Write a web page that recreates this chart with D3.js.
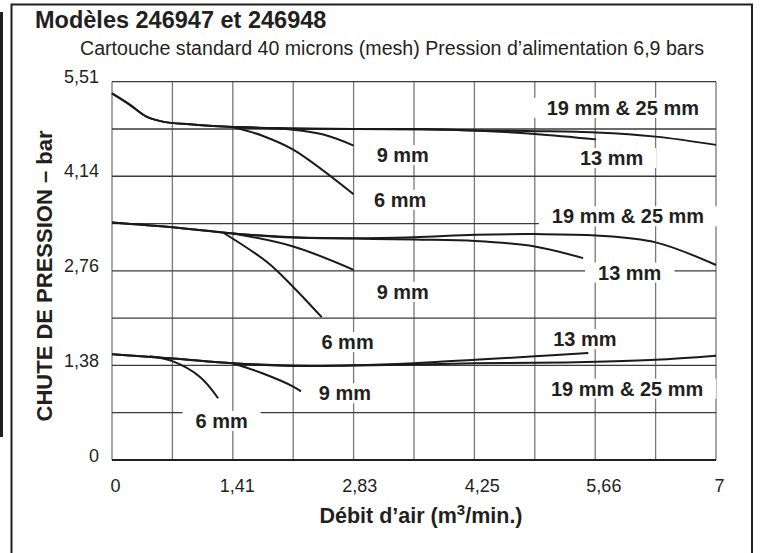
<!DOCTYPE html>
<html>
<head>
<meta charset="utf-8">
<script src="https://cdn.jsdelivr.net/npm/d3@7"></script>
<style>
  html, body { margin: 0; padding: 0; background: #fff; }
  svg text { font-family: "Liberation Sans", Arial, Helvetica, sans-serif; fill: #231f20; }
</style>
</head>
<body>
<svg id="chart" width="760" height="553"></svg>
<script>
// ---------- data ----------
const xTicks = [0, 1.41, 2.83, 4.25, 5.66, 7];
const xTickLabels = ["0", "1,41", "2,83", "4,25", "5,66", "7"];
const yTicks = [0, 1.38, 2.76, 4.14, 5.51];
const yTickLabels = ["0", "1,38", "2,76", "4,14", "5,51"];
const xGrid = [0, 0.7, 1.4, 2.1, 2.8, 3.5, 4.2, 4.9, 5.6, 6.3, 7];
const yGrid = [0, 0.689, 1.378, 2.066, 2.755, 3.444, 4.133, 4.821, 5.51];

// upper group
const top_19_25 = [[0,5.34],[0.2,5.18],[0.4,5.0],[0.6,4.925],[0.9,4.89],[1.4,4.85],[2.1,4.83],[2.8,4.82],[3.57,4.82],[4.21,4.80],[4.9,4.79],[5.61,4.77],[6.3,4.71],[7.0,4.59]];
const top_13 = [[0,5.34],[0.2,5.18],[0.4,5.0],[0.6,4.925],[0.9,4.89],[1.4,4.85],[2.1,4.83],[2.8,4.82],[3.9,4.81],[4.9,4.75],[5.61,4.67]];
const top_9 = [[1.4,4.85],[2.1,4.81],[2.45,4.74],[2.8,4.58]];
const top_6 = [[1.4,4.85],[1.75,4.72],[2.1,4.52],[2.8,3.87]];

// middle group
const mid_19_25 = [[0,3.46],[0.7,3.39],[1.4,3.30],[2.1,3.245],[2.8,3.23],[3.5,3.245],[4.21,3.28],[4.9,3.29],[5.61,3.27],[6.3,3.17],[7.0,2.84]];
const mid_13 = [[0,3.46],[0.7,3.39],[1.4,3.30],[2.1,3.24],[2.8,3.225],[3.5,3.21],[4.21,3.19],[4.9,3.11],[5.46,2.94]];
const mid_9 = [[1.4,3.30],[2.1,3.11],[2.8,2.77]];
const mid_6 = [[1.29,3.31],[1.8,2.88],[2.1,2.52],[2.43,2.08]];

// lower group
const low_19_25 = [[0,1.54],[0.7,1.48],[1.4,1.41],[2.1,1.37],[2.8,1.375],[3.5,1.39],[4.21,1.41],[4.9,1.415],[5.61,1.43],[6.3,1.46],[7.0,1.52]];
const low_13 = [[0,1.54],[0.7,1.48],[1.4,1.41],[2.1,1.375],[2.8,1.38],[3.5,1.41],[4.21,1.46],[4.9,1.51],[5.52,1.56]];
const low_9 = [[1.4,1.41],[1.75,1.26],[2.1,1.07],[2.19,1.00]];
const low_6 = [[0.44,1.51],[0.7,1.44],[1.02,1.21],[1.23,0.90]];

const curveSeries = [top_19_25, top_13, top_9, top_6, mid_19_25, mid_13, mid_9, mid_6, low_19_25, low_13, low_9, low_6];

// curve labels: text and centre (data units)
const labelTexts = ["19 mm & 25 mm", "9 mm", "13 mm", "6 mm",
                    "19 mm & 25 mm", "13 mm", "9 mm", "6 mm",
                    "13 mm", "19 mm & 25 mm", "9 mm", "6 mm"];
const labelX = [5.92, 3.37, 5.79, 3.34, 5.98, 6.00, 3.37, 2.73, 5.48, 5.97, 2.70, 1.27];
const labelY = [5.13, 4.44, 4.40, 3.79, 3.55, 2.73, 2.45, 1.72, 1.76, 1.04, 0.97, 0.57];

const titleText = "Modèles 246947 et 246948";
const subtitleText = "Cartouche standard 40 microns (mesh) Pression d’alimentation 6,9 bars";
const yTitle = "CHUTE DE PRESSION – bar";

// ---------- drawing ----------
const svg = d3.select("#chart");
const x = d3.scaleLinear().domain([0, 7]).range([112, 716]);
const y = d3.scaleLinear().domain([0, 5.51]).range([460, 81.7]);

// frame
svg.append("rect").attr("x", 0).attr("y", 12).attr("width", 3).attr("height", 425).attr("fill", "#231f20");
svg.append("path").attr("d", "M11.5,553 V4.5 H752 V553").attr("fill", "none").attr("stroke", "#231f20").attr("stroke-width", 2);

// title
svg.append("text").attr("x", 35).attr("y", 28).attr("font-size", 23.5).attr("font-weight", "bold").text(titleText);
svg.append("text").attr("x", 80).attr("y", 55).attr("font-size", 19.6).text(subtitleText);

// grid
const g = svg.append("g");
g.selectAll("line.vg").data(xGrid).join("line").attr("class", "vg")
  .attr("x1", d => x(d)).attr("x2", d => x(d)).attr("y1", y(0)).attr("y2", y(5.51))
  .attr("stroke", "#777").attr("stroke-width", 1.3);
g.selectAll("line.hg").data(yGrid).join("line").attr("class", "hg")
  .attr("x1", x(0)).attr("x2", x(7)).attr("y1", d => y(d)).attr("y2", d => y(d))
  .attr("stroke", "#3a3a3a").attr("stroke-width", 1.3);
g.append("line").attr("x1", x(0)).attr("x2", x(7)).attr("y1", y(0)).attr("y2", y(0)).attr("stroke", "#231f20").attr("stroke-width", 2);

// axes (tick labels only)
const xAxis = d3.axisBottom(x).tickValues(xTicks).tickFormat((d, i) => xTickLabels[i]).tickSize(0).tickPadding(0);
const xa = svg.append("g").attr("transform", `translate(3,${y(0)})`).call(xAxis);
xa.select(".domain").remove();
xa.selectAll("text").attr("font-size", 18).attr("dy", null).attr("y", 32).style("font-family", '"Liberation Sans", Arial, sans-serif').attr("fill", "#231f20");

const yAxis = d3.axisLeft(y).tickValues(yTicks).tickFormat((d, i) => yTickLabels[i]).tickSize(0).tickPadding(0);
const ya = svg.append("g").attr("transform", `translate(99,0)`).call(yAxis);
ya.select(".domain").remove();
ya.selectAll("text").attr("font-size", 18).attr("dy", null).attr("y", 1).style("font-family", '"Liberation Sans", Arial, sans-serif').attr("fill", "#231f20");

// axis titles
const xt = svg.append("text").attr("x", 421).attr("y", 523).attr("text-anchor", "middle").attr("font-size", 21.5).attr("font-weight", "bold");
xt.append("tspan").text("Débit d’air (m");
xt.append("tspan").attr("font-size", 15).attr("dy", -8).text("3");
xt.append("tspan").attr("dy", 8).text("/min.)");

svg.append("text").attr("transform", "translate(52,276) rotate(-90)").attr("text-anchor", "middle")
  .attr("font-size", 22).attr("font-weight", "bold").text(yTitle);

// curves
const line = d3.line().x(d => x(d[0])).y(d => y(d[1])).curve(d3.curveCatmullRom.alpha(0.5));
svg.append("g").selectAll("path").data(curveSeries).join("path")
  .attr("d", line).attr("fill", "none").attr("stroke", "#1a1a1a").attr("stroke-width", 2);

// labels with white backgrounds
const lg = svg.append("g");
labelTexts.forEach((t, i) => {
  const grp = lg.append("g");
  const rect = grp.append("rect").attr("fill", "#fff");
  const txt = grp.append("text").attr("x", x(labelX[i])).attr("y", y(labelY[i]))
    .attr("text-anchor", "middle").attr("dominant-baseline", "central")
    .attr("font-size", 20).attr("font-weight", "bold").text(t);
  const bb = txt.node().getBBox();
  rect.attr("x", bb.x - 13).attr("y", bb.y + 1).attr("width", bb.width + 26).attr("height", bb.height - 2);
});
</script>
</body>
</html>
